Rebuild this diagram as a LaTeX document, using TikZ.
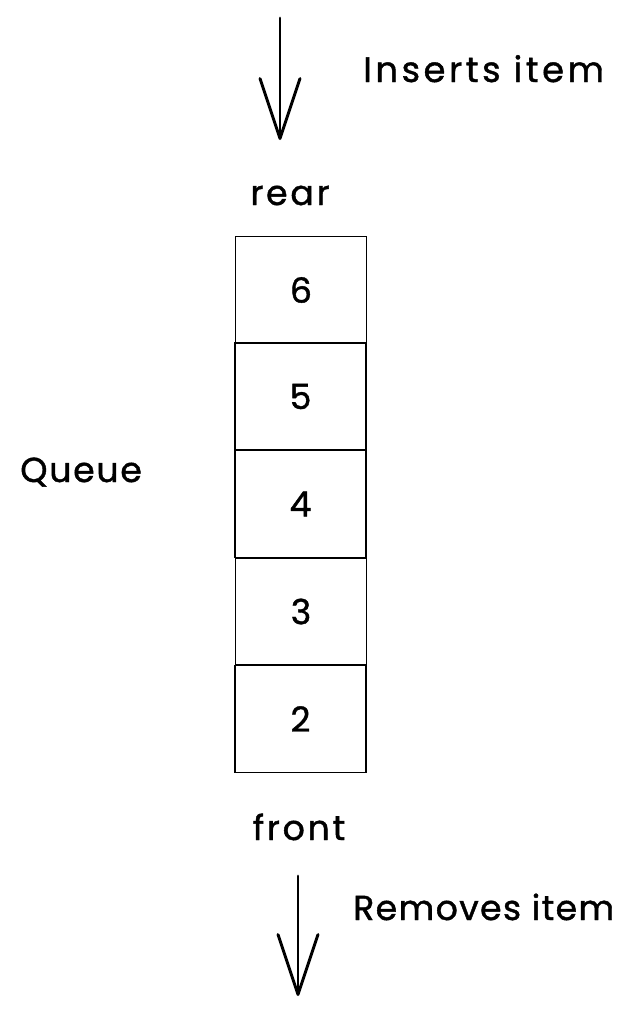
\documentclass[tikz,border=0pt]{standalone}
\usepackage{fontspec}
\setmainfont{Poppins}[LetterSpace=8,FakeBold=1.2]
\usetikzlibrary{arrows.meta}
\begin{document}
\begin{tikzpicture}[x=0.75pt,y=-0.75pt,
  cell/.style={draw,line width=1pt,minimum width=98.25pt,minimum height=80.25pt,inner sep=0pt,font=\fontsize{26}{30}\selectfont},
  lbl/.style={font=\fontsize{26}{30}\selectfont,inner sep=0pt},
  flow/.style={line width=2.2pt,line cap=round,-{Straight Barb[length=45pt,width=30pt,line width=2.2pt,round]}}]
\useasboundingbox (0,0) rectangle (632,1015);
\node[cell] (b6) at (301,290) {6};
\node[cell] (b5) at (300.5,396.5) {5};
\node[cell] (b4) at (300.5,504) {4};
\node[cell] (b3) at (301,611.5) {3};
\node[cell] (b2) at (300.5,719) {2};
\node[lbl,anchor=base] (rear) at (290,205) {rear};
\node[lbl,anchor=base] (front) at (299,840) {front};
\node[lbl,anchor=base west,font=\fontsize{26.5}{30}\selectfont\addfontfeature{LetterSpace=10}] (ins) at (363,82) {Inserts item};
\node[lbl,anchor=base west,font=\fontsize{26}{30}\selectfont\addfontfeature{LetterSpace=4}] (rem) at (353,920) {Removes item};
\node[lbl,anchor=base west,font=\fontsize{26}{30}\selectfont\addfontfeature{LetterSpace=5}] (queue) at (20,482) {Queue};
\coordinate (t0) at (280,18);
\coordinate (t1) at (280,140);
\coordinate (u0) at (298,876);
\coordinate (u1) at (298,996);
\draw[flow] (t0) -- (t1);
\draw[flow] (u0) -- (u1);
\end{tikzpicture}
\end{document}
